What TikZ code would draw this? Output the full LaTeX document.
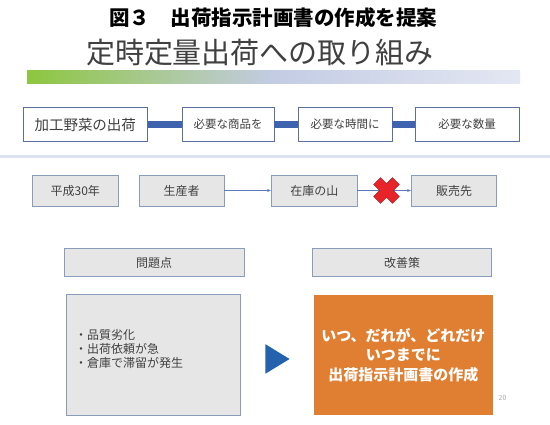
\documentclass[tikz,border=0pt]{standalone}
\usepackage{fontspec}
\setmainfont{Noto Sans CJK JP}
\usetikzlibrary{arrows.meta}
\definecolor{edgeA}{HTML}{5B70A0}
\definecolor{edgeB}{HTML}{8A9CBC}
\definecolor{grayfill}{HTML}{E6E6E6}
\definecolor{barblue}{HTML}{3F63AE}
\definecolor{txtgray}{HTML}{404040}
\definecolor{orangefill}{HTML}{E07F31}
\definecolor{sepline}{HTML}{DDE2F0}
\definecolor{gradgreen}{HTML}{8DC63F}
\definecolor{gradmid}{HTML}{C3CCE4}
\definecolor{gradright}{HTML}{E4E7F3}
\definecolor{tri}{HTML}{2462AD}
\definecolor{xred}{HTML}{E8242A}
\tikzset{
  whitebox/.style={draw=edgeA, line width=0.8pt, fill=white, minimum height=34.5pt, inner sep=0pt, text=txtgray, font=\fontsize{11.5}{13}\selectfont},
  graybox/.style={draw=edgeB, line width=0.8pt, fill=grayfill, inner sep=0pt, text=txtgray, font=\fontsize{12}{14}\selectfont},
  thickbar/.style={draw=barblue, line width=6.5pt},
  thinarrow/.style={draw=barblue!85, line width=0.6pt, -{Latex[length=4pt,width=3pt]}},
}
\begin{document}
\begin{tikzpicture}[x=1pt,y=-1pt]
\useasboundingbox (0,0) rectangle (550,424);
\fill[white] (0,0) rectangle (550,424);

% titles
\node[font=\bfseries\fontsize{20.5}{22}\selectfont, text=black] (title) at (273.5,18) {図３　出荷指示計画書の作成を提案};
\node[font=\fontsize{29}{31}\selectfont, text=txtgray] (subtitle) at (260,53) {定時定量出荷への取り組み};
\shade[left color=gradgreen, right color=gradright, middle color=gradmid] (27,70) rectangle (520,83);

% row 1
\node[whitebox, minimum width=124.5pt, font=\fontsize{14.5}{16}\selectfont] (b1) at (85.25,124.5) {加工野菜の出荷};
\node[whitebox, minimum width=92pt] (b2) at (228,124.5) {必要な商品を};
\node[whitebox, minimum width=94pt] (b3) at (345,124.5) {必要な時間に};
\node[whitebox, minimum width=104pt] (b4) at (467,124.5) {必要な数量};
\draw[thickbar] (b1.east) -- (b2.west);
\draw[thickbar] (b2.east) -- (b3.west);
\draw[thickbar] (b3.east) -- (b4.west);

\draw[sepline, line width=3pt] (0,156.7) -- (550,156.7);

% row 2
\node[graybox, minimum width=85.4pt, minimum height=31pt] (p30) at (75.3,190.5) {平成30年};
\node[graybox, minimum width=85pt, minimum height=31pt] (sho) at (181.5,190.5) {生産者};
\node[graybox, minimum width=85.3pt, minimum height=31pt] (zai) at (314.35,190.5) {在庫の山};
\node[graybox, minimum width=85pt, minimum height=31pt] (han) at (454.2,190.5) {販売先};
\draw[thinarrow] (sho.east) -- (zai.west);
\draw[thinarrow] (zai.east) -- (han.west);
% red cross
\begin{scope}[shift={(386.5,190.5)}, rotate=45]
\fill[xred, draw=xred!70!black, line width=0.4pt]
  (-4.8,-13.3) -- (4.8,-13.3) -- (4.8,-4.8) -- (13.3,-4.8) -- (13.3,4.8) -- (4.8,4.8)
  -- (4.8,13.3) -- (-4.8,13.3) -- (-4.8,4.8) -- (-13.3,4.8) -- (-13.3,-4.8) -- (-4.8,-4.8) -- cycle;
\end{scope}

% row 3
\node[graybox, minimum width=180.3pt, minimum height=28.4pt] (mon) at (154.15,262.5) {問題点};
\node[graybox, minimum width=179pt, minimum height=28.4pt] (kai) at (402.2,262.5) {改善策};
\node[graybox, minimum width=173.7pt, minimum height=120.3pt] (prob) at (153.15,354.85) {};
\node[anchor=west, align=left, text=txtgray, font=\fontsize{12}{14.2}\selectfont, inner sep=0pt] (probtxt) at (75,349) {・品質劣化\\・出荷依頼が急\\・倉庫で滞留が発生};
\fill[tri] (265.4,344.2) -- (289.6,359) -- (265.4,373.7) -- cycle;
\node[fill=orangefill, minimum width=179pt, minimum height=120.3pt, inner sep=0pt, text=white, align=center, font=\bfseries\fontsize{15}{19.5}\selectfont] (sol) at (403.3,354.85) {いつ、だれが、どれだけ\\いつまでに\\出荷指示計画書の作成};
\node[text=gray!70, font=\fontsize{7}{8}\selectfont] (pg) at (502.5,397.5) {20};
\end{tikzpicture}
\end{document}
